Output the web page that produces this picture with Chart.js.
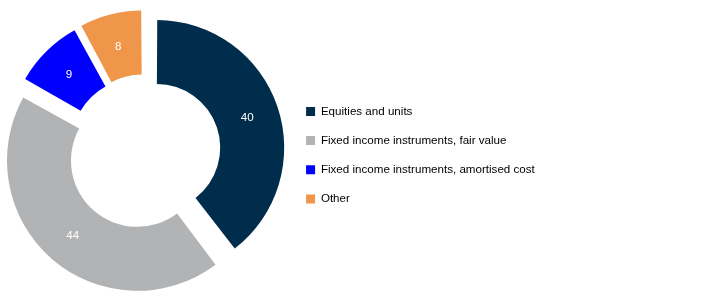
<!DOCTYPE html>
<html>
<head>
<meta charset="utf-8">
<script src="https://cdn.jsdelivr.net/npm/chart.js@4/dist/chart.umd.min.js"></script>
<style>
  html, body { margin: 0; padding: 0; background: #fff; }
  #wrap { width: 722px; height: 300px; position: relative; }
</style>
</head>
<body>
<div id="wrap"><canvas id="c" width="722" height="300"></canvas></div>
<script>
const categories = [
  'Equities and units',
  'Fixed income instruments, fair value',
  'Fixed income instruments, amortised cost',
  'Other'
];
const values = [40, 44, 9, 8];
const colors = ['#002D4B', '#B2B3B5', '#0000FF', '#F0964A'];

const FONT = '"Liberation Sans", Arial, sans-serif';

const sliceLabels = {
  id: 'sliceLabels',
  afterDatasetsDraw(chart) {
    const ctx = chart.ctx;
    const meta = chart.getDatasetMeta(0);
    ctx.save();
    ctx.fillStyle = '#ffffff';
    ctx.font = '11.6px ' + FONT;
    ctx.textAlign = 'center';
    ctx.textBaseline = 'middle';
    meta.data.forEach((arc, i) => {
      const off = (arc.options.offset || 0) / 4;
      const fix = 1 - Math.sin(Math.min(Math.PI, arc.circumference));
      const mid = (arc.startAngle + arc.endAngle) / 2;
      const rad = off + (arc.innerRadius + arc.outerRadius) / 2 + off * fix;
      ctx.fillText(String(chart.data.datasets[0].data[i]),
        arc.x + Math.cos(mid) * rad, arc.y + Math.sin(mid) * rad + 1);
    });
    ctx.restore();
  }
};

Chart.defaults.font.family = FONT;
Chart.defaults.font.size = 11.6;
Chart.defaults.color = '#000';

new Chart(document.getElementById('c'), {
  type: 'doughnut',
  data: {
    labels: categories,
    datasets: [{
      data: values,
      backgroundColor: colors,
      borderWidth: 0,
      offset: 48,
      hoverOffset: 0
    }]
  },
  options: {
    responsive: false,
    animation: false,
    radius: 123,
    cutout: '47.97%',
    layout: { padding: { top: 4.5, bottom: 1.5, left: 1.8, right: 177.2 } },
    plugins: {
      tooltip: { enabled: false },
      legend: {
        position: 'right',
        title: { display: true, text: '', font: { size: 7.4, lineHeight: 1 }, padding: 0 },
        labels: {
          boxWidth: 9,
          boxHeight: 9,
          padding: 17.6,
          color: '#000',
          font: { size: 11.6 }
        }
      }
    }
  },
  plugins: [sliceLabels]
});
</script>
</body>
</html>
